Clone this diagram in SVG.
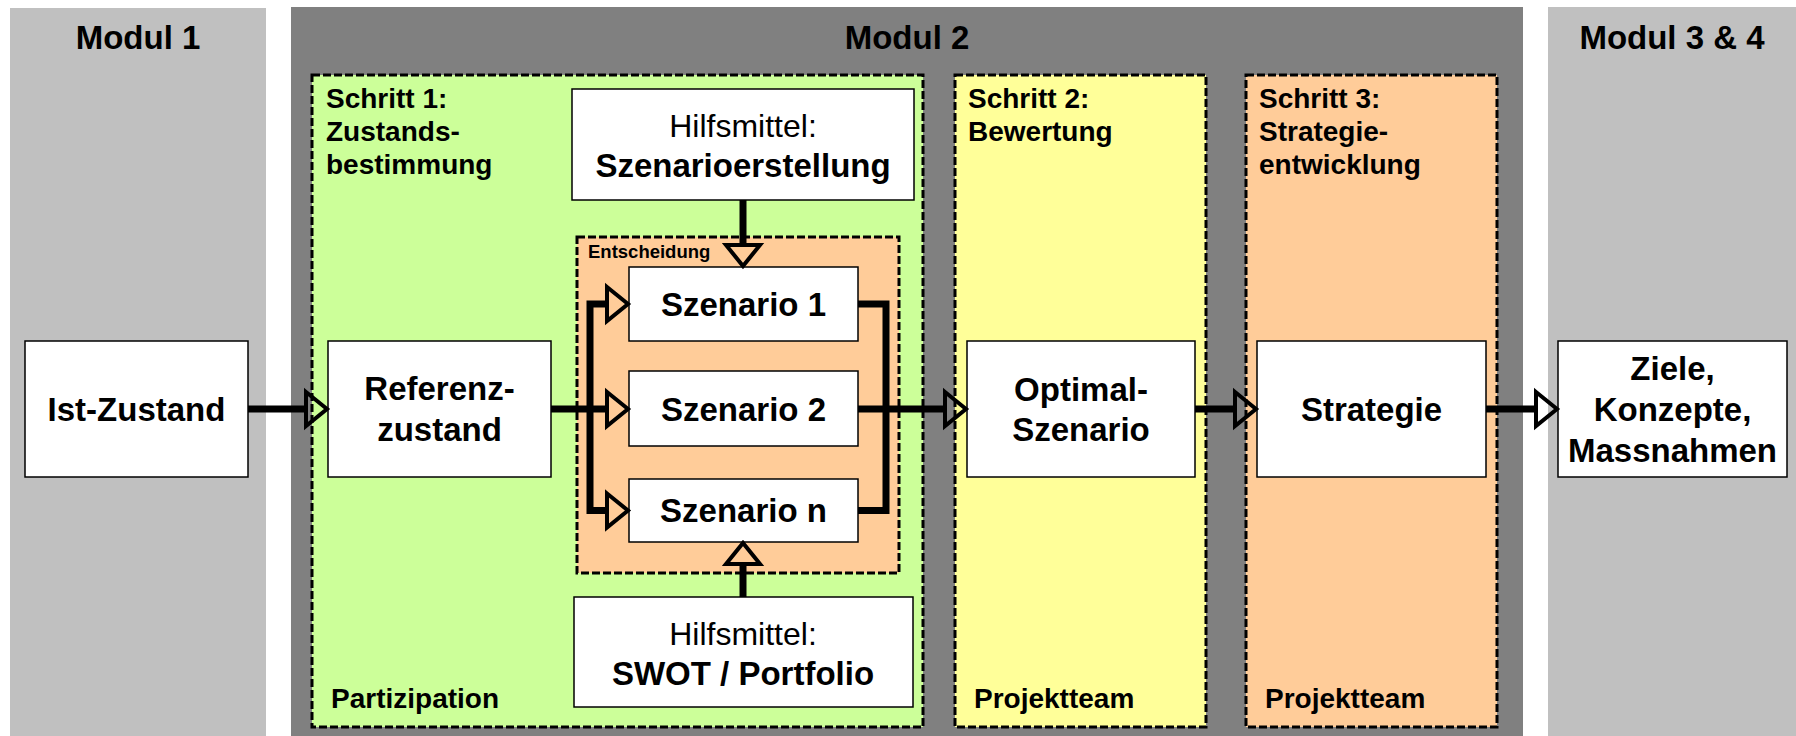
<svg xmlns="http://www.w3.org/2000/svg" width="1796" height="736" viewBox="0 0 1796 736">
  <style>
    text { font-family: "Liberation Sans", Arial, Helvetica, sans-serif; fill: #000; }
    .title { font-size: 33px; font-weight: bold; text-anchor: middle; }
    .box { fill: #fff; stroke: #000; stroke-width: 1.5; }
    .lbl { font-size: 33px; font-weight: bold; text-anchor: middle; }
    .reg { font-size: 32px; font-weight: normal; text-anchor: middle; }
    .step { font-size: 28px; font-weight: bold; }
    .zone { stroke: #000; stroke-width: 3; stroke-dasharray: 8 3; }
    .line { fill: none; stroke: #000; stroke-width: 7; stroke-linejoin: miter; stroke-linecap: butt; }
    .head { fill: none; stroke: #000; stroke-width: 4; stroke-linejoin: miter; }
  </style>

  <rect width="1796" height="736" fill="#fff"/>

  <!-- module panels -->
  <g id="modul1">
    <rect x="10" y="8" width="256" height="728" fill="#c0c0c0"/>
    <text class="title" x="138" y="49">Modul 1</text>
  </g>
  <g id="modul2">
    <rect x="291" y="7" width="1232" height="729" fill="#808080"/>
    <text class="title" x="907" y="49">Modul 2</text>
  </g>
  <g id="modul34">
    <rect x="1548" y="7" width="248" height="729" fill="#c0c0c0"/>
    <text class="title" x="1672" y="49">Modul 3 &amp; 4</text>
  </g>

  <!-- step zones -->
  <g id="schritt1">
    <rect class="zone" x="312" y="75" width="611" height="652" fill="#ccff99"/>
    <text class="step" x="326" y="108">Schritt 1:</text>
    <text class="step" x="326" y="141">Zustands-</text>
    <text class="step" x="326" y="174">bestimmung</text>
    <text class="step" x="331" y="708">Partizipation</text>
  </g>
  <g id="schritt2">
    <rect class="zone" x="955" y="75" width="251" height="652" fill="#ffff99"/>
    <text class="step" x="968" y="108">Schritt 2:</text>
    <text class="step" x="968" y="141">Bewertung</text>
    <text class="step" x="974" y="708">Projektteam</text>
  </g>
  <g id="schritt3">
    <rect class="zone" x="1246" y="75" width="251" height="652" fill="#ffcc99"/>
    <text class="step" x="1259" y="108">Schritt 3:</text>
    <text class="step" x="1259" y="141">Strategie-</text>
    <text class="step" x="1259" y="174">entwicklung</text>
    <text class="step" x="1265" y="708">Projektteam</text>
  </g>
  <g id="entscheidung">
    <rect class="zone" x="577" y="237" width="322" height="336" fill="#ffcc99"/>
    <text x="588" y="258" style="font-size:18.5px;font-weight:bold">Entscheidung</text>
  </g>

  <!-- nodes -->
  <g id="ist-zustand">
    <rect class="box" x="25" y="341" width="223" height="136"/>
    <text class="lbl" x="136.5" y="421">Ist-Zustand</text>
  </g>
  <g id="referenzzustand">
    <rect class="box" x="328" y="341" width="223" height="136"/>
    <text class="lbl" x="439.5" y="400">Referenz-</text>
    <text class="lbl" x="439.5" y="441">zustand</text>
  </g>
  <g id="hilfsmittel-szenario">
    <rect class="box" x="572" y="89" width="342" height="111"/>
    <text class="reg" x="743" y="137">Hilfsmittel:</text>
    <text class="lbl" x="743" y="177">Szenarioerstellung</text>
  </g>
  <g id="szenario1">
    <rect class="box" x="629" y="267" width="229" height="74"/>
    <text class="lbl" x="743.5" y="316">Szenario 1</text>
  </g>
  <g id="szenario2">
    <rect class="box" x="629" y="371" width="229" height="75"/>
    <text class="lbl" x="743.5" y="421">Szenario 2</text>
  </g>
  <g id="szenarion">
    <rect class="box" x="629" y="479" width="229" height="63"/>
    <text class="lbl" x="743.5" y="522">Szenario n</text>
  </g>
  <g id="hilfsmittel-swot">
    <rect class="box" x="574" y="597" width="339" height="110"/>
    <text class="reg" x="743" y="645">Hilfsmittel:</text>
    <text class="lbl" x="743" y="685">SWOT / Portfolio</text>
  </g>
  <g id="optimal-szenario">
    <rect class="box" x="967" y="341" width="228" height="136"/>
    <text class="lbl" x="1081" y="401">Optimal-</text>
    <text class="lbl" x="1081" y="441">Szenario</text>
  </g>
  <g id="strategie">
    <rect class="box" x="1257" y="341" width="229" height="136"/>
    <text class="lbl" x="1371.5" y="421">Strategie</text>
  </g>
  <g id="ziele">
    <rect class="box" x="1558" y="341" width="229" height="136"/>
    <text class="lbl" x="1672.5" y="380">Ziele,</text>
    <text class="lbl" x="1672.5" y="421">Konzepte,</text>
    <text class="lbl" x="1672.5" y="462">Massnahmen</text>
  </g>

  <!-- connectors -->
  <g id="connectors">
    <!-- Ist-Zustand to Referenzzustand -->
    <path class="line" d="M248,409 H306"/>
    <path class="head" d="M306,392 L327,409 L306,426 Z"/>

    <!-- Referenzzustand fan-out to scenarios -->
    <path class="line" d="M551,409 H607"/>
    <path class="line" d="M607,304 H590 V510.5 H607"/>
    <path class="head" d="M607,287 L628,304 L607,321 Z"/>
    <path class="head" d="M607,392 L628,409 L607,426 Z"/>
    <path class="head" d="M607,493.5 L628,510.5 L607,527.5 Z"/>

    <!-- scenarios merge to Optimal-Szenario -->
    <path class="line" d="M858,304 H886 V510.5 H858"/>
    <path class="line" d="M858,409 H945"/>
    <path class="head" d="M945,392 L966,409 L945,426 Z"/>

    <!-- tools into the decision block -->
    <path class="line" d="M743,200 V245"/>
    <path class="head" d="M726,245 L743,266 L760,245 Z"/>
    <path class="line" d="M743,597 V564"/>
    <path class="head" d="M726,564 L743,543 L760,564 Z"/>

    <!-- Optimal-Szenario to Strategie -->
    <path class="line" d="M1195,409 H1235"/>
    <path class="head" d="M1235,392 L1256,409 L1235,426 Z"/>

    <!-- Strategie to Ziele -->
    <path class="line" d="M1486,409 H1536"/>
    <path class="head" d="M1536,392 L1557,409 L1536,426 Z"/>
  </g>
</svg>
